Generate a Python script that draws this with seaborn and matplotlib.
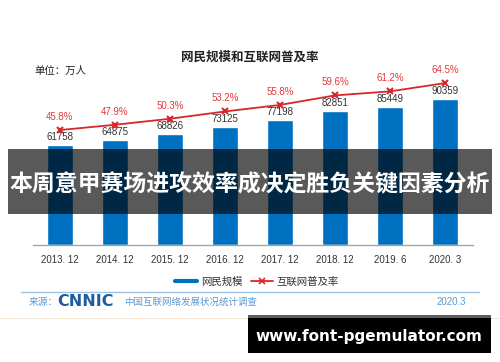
import numpy as np
import seaborn as sns
import matplotlib.pyplot as plt
from matplotlib.lines import Line2D
from matplotlib.patches import Rectangle

# data
periods = ['2013. 12', '2014. 12', '2015. 12', '2016. 12',
           '2017. 12', '2018. 12', '2019. 6', '2020. 3']
users = [61758, 64875, 68826, 73125, 77198, 82851, 85449, 90359]
rate = [45.8, 47.9, 50.3, 53.2, 55.8, 59.6, 61.2, 64.5]

sns.set_style('white')
plt.rcParams['font.family'] = ['Liberation Sans', 'Noto Sans CJK SC']

W, H = 500, 362
def fx(x):
    return x / W
def fy(y):
    return 1 - y / H

fig = plt.figure(figsize=(5, 3.62), dpi=100)

# main axes: bars
ax = fig.add_axes([fx(32.5), fy(245), 440 / W, 195 / H])
ax.patch.set_alpha(0)
sns.barplot(x=periods, y=users, color='#0070C0', saturation=1,
            width=0.47, ax=ax)
ax.set_xlim(-0.5, 7.5)
ax.set_ylim(0, 195 / 0.00162)
ax.set_xlabel('')
ax.set_ylabel('')
ax.set_yticks([])
for s in ['top', 'right', 'left']:
    ax.spines[s].set_visible(False)
ax.spines['bottom'].set_color('#a6a6a6')
ax.spines['bottom'].set_linewidth(1)
ax.tick_params(axis='x', which='major', length=0, pad=7,
               labelsize=7, labelcolor='#333333')
ax.set_xticks(np.arange(-0.5, 8, 1), minor=True)
ax.tick_params(axis='x', which='minor', length=3, width=0.8,
               color='#a6a6a6', direction='out')
for i, v in enumerate(users):
    ax.annotate(f'{v}', (i, v), xytext=(0, 8), textcoords='offset pixels',
                ha='center', va='center', fontsize=7, color='#333333')

# twin axes: penetration rate line
ax2 = ax.twinx()
sns.lineplot(x=periods, y=rate, sort=False, ax=ax2, color='#D9262B',
             linewidth=1.3, marker='x', markersize=5, markeredgewidth=1.5,
             markeredgecolor='#D9262B')
ax2.set_ylim(0, 195 / 2.51)
ax2.set_yticks([])
ax2.set_ylabel('')
for s in ax2.spines.values():
    s.set_visible(False)
for i, v in enumerate(rate):
    ax2.annotate(f'{v}%', (i, v), xytext=(0, 13), textcoords='offset pixels',
                 ha='center', va='center', fontsize=7, color='#E5393B')

# titles
fig.text(fx(250), fy(58), '网民规模和互联网普及率', ha='center', va='center',
         fontsize=9, fontweight='bold', color='#222222')
fig.text(fx(34), fy(71), '单位：万人', ha='left', va='center',
         fontsize=7.5, color='#222222')

# legend
handles = [Line2D([], [], color='#0070C0', linewidth=3),
           Line2D([], [], color='#D9262B', linewidth=1.3, marker='x',
                  markersize=4, markeredgewidth=1.2)]
fig.legend(handles, ['网民规模', '互联网普及率'], ncol=2, frameon=False,
           loc='center', bbox_to_anchor=(fx(257), fy(282)), fontsize=7.5,
           handlelength=2.1, handletextpad=0.4, columnspacing=0.8,
           labelcolor='#333333')

# source line
fig.add_artist(Line2D([fx(21), fx(479)], [fy(291.7), fy(291.7)],
                      color='#9DC3E6', linewidth=1))
fig.text(fx(29), fy(302), '来源：', ha='left', va='center', fontsize=7,
         color='#5B9BD5')
fig.text(fx(57), fy(302), 'CNNIC', ha='left', va='center', fontsize=11.5,
         fontweight='heavy', color='#1F5C9E', family='DejaVu Sans')
fig.text(fx(124), fy(302), '中国互联网络发展状况统计调查', ha='left',
         va='center', fontsize=6.8, color='#5B9BD5')
fig.text(fx(466), fy(302), '2020.3', ha='right', va='center', fontsize=7,
         color='#5B9BD5')
fig.add_artist(Line2D([0, 1], [fy(317.5), fy(317.5)], color='#f5e8d8',
                      linewidth=0.8))

# dark banner with headline
fig.add_artist(Rectangle((fx(8), fy(214)), 484 / W, 64.7 / H,
                         transform=fig.transFigure, color='black',
                         alpha=0.65, linewidth=0, zorder=5))
fig.text(fx(250), fy(185), '本周意甲赛场进攻效率成决定胜负关键因素分析',
         ha='center', va='center', fontsize=16.5, fontweight='bold',
         color='white', family='Noto Sans CJK SC', zorder=6)

# site box at the bottom
fig.add_artist(Rectangle((fx(248), fy(353)), 243 / W, 38 / H,
                         transform=fig.transFigure, color='black',
                         linewidth=0, zorder=5))
fig.add_artist(Rectangle((fx(248), fy(318)), 243 / W, 3 / H,
                         transform=fig.transFigure, color='#5f5f5f',
                         linewidth=0, zorder=6))
fig.text(fx(369), fy(337), 'www.font-pgemulator.com', ha='center',
         va='center', fontsize=11, fontweight='bold', color='white',
         family='DejaVu Sans', zorder=7)

fig.savefig('out.png', dpi=100)
